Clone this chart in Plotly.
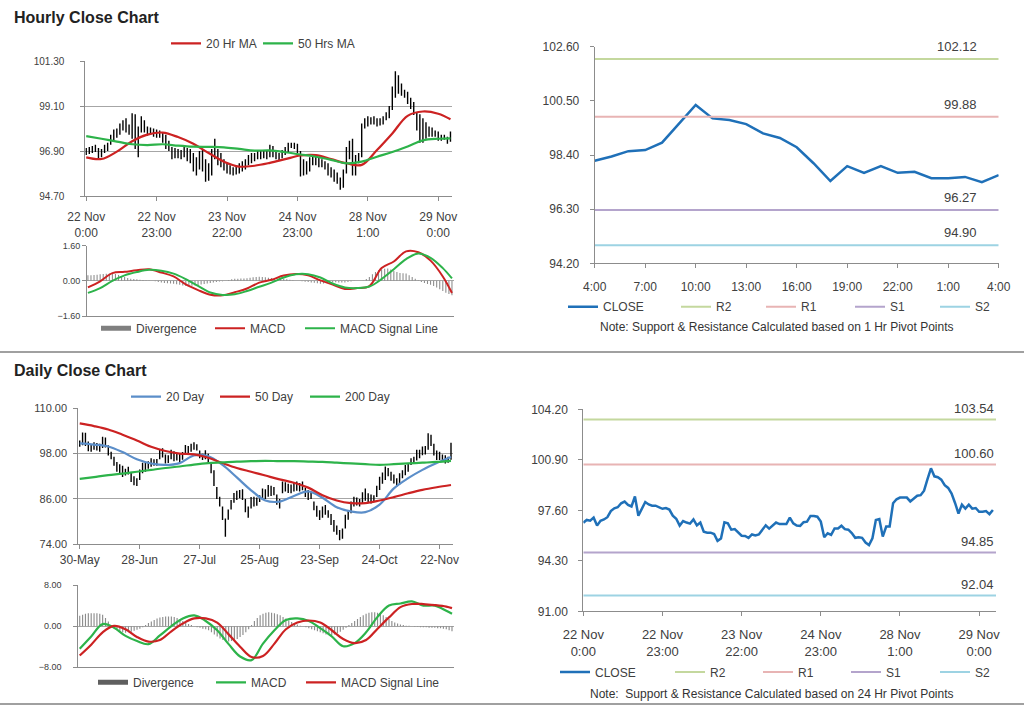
import plotly.graph_objects as go

W, H = 1024, 706
FONT = "Liberation Sans, Arial, sans-serif"
TXT = "#404040"
GRID = "#a6a6a6"
AXC = "#8c8c8c"

# ---------------- hourly data (22 Nov 0:00 -> 29 Nov 4:00) ----------------
hour_labels = ["22 Nov<br>0:00", "22 Nov<br>23:00", "23 Nov<br>22:00",
               "24 Nov<br>23:00", "28 Nov<br>1:00", "29 Nov<br>0:00"]
hour_label_pos = [0, 23, 46, 69, 92, 115]

hour_close = [96.79, 96.97, 96.92, 97.12, 96.60, 96.92, 97.00, 97.15, 97.55, 97.73,
              97.80, 98.06, 98.17, 97.95, 97.85, 98.50, 97.25, 97.75, 98.14, 97.98,
              97.90, 97.90, 97.80, 97.70, 97.75, 97.65, 97.25, 97.05, 96.60, 96.90,
              96.80, 96.73, 97.00, 96.62, 96.80, 96.20, 96.14, 96.14, 96.05, 95.60,
              95.75, 96.82, 96.75, 96.33, 96.37, 96.15, 95.94, 95.92, 95.80, 96.02,
              95.95, 96.02, 96.30, 96.62, 96.40, 96.62, 96.80, 96.70, 96.70, 96.70,
              97.12, 96.75, 96.60, 96.58, 96.82, 96.86, 97.23, 97.23, 97.18, 96.86,
              95.84, 96.10, 96.00, 96.41, 96.41, 96.59, 96.37, 96.33, 96.11, 95.80,
              95.84, 95.80, 95.49, 95.33, 95.77, 96.97, 97.03, 95.88, 96.54, 96.54,
              98.06, 98.32, 98.43, 98.43, 98.43, 98.18, 98.34, 98.55, 98.59, 98.88,
              99.63, 100.34, 99.82, 99.76, 99.60, 99.24, 99.06, 98.70, 98.08, 97.39,
              97.97, 97.71, 97.97, 97.71, 97.75, 97.50, 97.50, 97.55, 97.35, 97.62]

hour_high = [97.05, 97.10, 97.15, 97.20, 97.05, 97.00, 97.20, 97.30, 97.70, 97.95,
             98.00, 98.25, 98.40, 98.50, 98.20, 98.74, 98.70, 98.10, 98.60, 98.40,
             98.10, 98.05, 98.00, 97.95, 97.90, 97.80, 97.70, 97.40, 97.10, 97.05,
             97.00, 96.95, 97.15, 97.05, 97.00, 96.80, 96.60, 96.90, 97.00, 96.50,
             96.30, 97.00, 97.50, 97.00, 96.80, 96.50, 96.30, 96.20, 96.10, 96.20,
             96.30, 96.40, 96.50, 96.70, 96.80, 96.80, 96.95, 96.90, 96.90, 96.95,
             97.20, 97.15, 96.95, 96.80, 96.95, 97.10, 97.30, 97.30, 97.30, 97.25,
             96.90, 96.50, 96.40, 96.60, 96.70, 96.70, 96.60, 96.50, 96.40, 96.30,
             96.10, 96.00, 95.85, 95.60, 96.00, 97.10, 97.40, 97.50, 96.70, 96.80,
             98.25, 98.50, 98.60, 98.55, 98.60, 98.50, 98.50, 98.60, 98.80, 99.10,
             100.05, 100.80, 100.60, 100.20, 99.90, 99.80, 99.50, 99.30, 98.80, 98.70,
             98.50, 98.30, 98.10, 98.05, 97.90, 97.85, 97.70, 97.70, 97.60, 97.85]

hour_low = [96.70, 96.75, 96.80, 96.85, 96.55, 96.60, 96.80, 96.90, 97.20, 97.40,
            97.55, 97.70, 97.90, 97.80, 97.70, 97.50, 97.00, 96.60, 97.80, 97.80,
            97.65, 97.70, 97.60, 97.55, 97.55, 97.30, 97.00, 96.90, 96.50, 96.55,
            96.55, 96.50, 96.60, 96.40, 96.30, 95.90, 95.70, 96.00, 95.90, 95.40,
            95.45, 95.70, 96.50, 96.20, 96.10, 95.95, 95.80, 95.75, 95.70, 95.75,
            95.80, 95.90, 96.00, 96.20, 96.30, 96.40, 96.50, 96.50, 96.55, 96.50,
            96.60, 96.60, 96.50, 96.45, 96.55, 96.70, 96.80, 97.05, 97.00, 96.80,
            95.65, 95.70, 95.75, 95.90, 96.20, 96.20, 96.10, 96.10, 96.00, 95.70,
            95.60, 95.40, 95.30, 95.00, 95.10, 95.80, 96.50, 95.70, 95.70, 96.30,
            96.60, 98.00, 98.10, 98.20, 98.20, 98.10, 98.15, 98.20, 98.40, 98.50,
            98.90, 99.50, 99.70, 99.60, 99.50, 99.20, 98.95, 98.66, 97.90, 97.30,
            97.30, 97.50, 97.60, 97.60, 97.60, 97.40, 97.40, 97.45, 97.25, 97.35]

hour_ma_pos = [0, 5, 10, 15, 20, 25, 30, 35, 40, 45, 50, 55, 60, 65, 70, 75, 80, 85,
               90, 95, 100, 105, 110, 115, 119]
hour_ma20 = [96.59, 96.51, 96.87, 97.38, 97.70, 97.80, 97.58, 97.25, 96.80, 96.38,
             96.14, 96.18, 96.32, 96.50, 96.68, 96.70, 96.50, 96.30, 96.22, 96.95,
             97.76, 98.62, 98.83, 98.72, 98.45]
hour_ma50 = [97.63, 97.50, 97.36, 97.23, 97.19, 97.23, 97.16, 97.11, 97.10, 97.08,
             97.00, 96.92, 96.93, 96.84, 96.73, 96.62, 96.47, 96.30, 96.38, 96.62,
             96.85, 97.12, 97.42, 97.50, 97.52]

hour_macd_pos = [0, 4, 8, 12, 16, 20, 24, 28, 32, 36, 40, 44, 48, 52, 56, 60, 64, 68,
                 72, 76, 80, 84, 88, 92, 96, 100, 104, 108, 112, 116, 119]
hour_macd = [-0.30, -0.02, 0.35, 0.41, 0.48, 0.53, 0.38, 0.20, -0.16, -0.42, -0.63,
             -0.66, -0.52, -0.35, -0.08, 0.05, 0.24, 0.31, 0.25, 0.02, -0.17, -0.37,
             -0.33, -0.24, 0.58, 0.88, 1.34, 1.30, 0.92, 0.20, -0.55]
hour_signal = [-0.55, -0.33, 0.00, 0.25, 0.40, 0.50, 0.46, 0.33, 0.08, -0.23, -0.53,
               -0.64, -0.61, -0.46, -0.27, -0.08, 0.15, 0.30, 0.30, 0.15, -0.12, -0.30,
               -0.33, -0.26, 0.08, 0.53, 0.99, 1.25, 1.05, 0.58, 0.11]
hour_divergence = [0.25, 0.26, 0.27, 0.28, 0.30, 0.31, 0.32, 0.33, 0.33, 0.31,
                   0.27, 0.22, 0.17, 0.13, 0.10, 0.08, 0.07, 0.05, 0.04, 0.03,
                   0.02, 0.00, -0.02, -0.05, -0.08, -0.10, -0.11, -0.12, -0.13, -0.15,
                   -0.18, -0.21, -0.23, -0.23, -0.22, -0.21, -0.19, -0.17, -0.14, -0.12,
                   -0.10, -0.08, -0.05, -0.03, -0.02, 0.01, 0.04, 0.07, 0.09, 0.10,
                   0.11, 0.11, 0.12, 0.14, 0.16, 0.18, 0.19, 0.18, 0.16, 0.14,
                   0.13, 0.12, 0.11, 0.10, 0.09, 0.07, 0.05, 0.03, 0.01, 0.00,
                   -0.02, -0.04, -0.05, -0.07, -0.09, -0.11, -0.13, -0.12, -0.10, -0.07,
                   -0.05, -0.06, -0.07, -0.07, -0.07, -0.05, -0.03, -0.01, 0.00, 0.01,
                   0.02, 0.08, 0.18, 0.30, 0.40, 0.48, 0.52, 0.55, 0.56, 0.52,
                   0.45, 0.40, 0.36, 0.35, 0.33, 0.26, 0.18, 0.10, 0.03, -0.05,
                   -0.10, -0.14, -0.18, -0.24, -0.30, -0.38, -0.46, -0.54, -0.60, -0.66]

# ---------------- pivot levels ----------------
level_names = ["R2", "R1", "S1", "S2"]
level_colors = ["#c4d89e", "#e8b4b4", "#b4a4cc", "#9dd3e3"]
pivot1_levels = [102.12, 99.88, 96.27, 94.90]
pivot24_levels = [103.54, 100.60, 94.85, 92.04]
pivot1_labels = ["4:00", "7:00", "10:00", "13:00", "16:00", "19:00", "22:00", "1:00", "4:00"]
pivot1_hours = 25  # last 25 hourly closes

# ---------------- daily data (30 May -> 28 Nov) ----------------
day_labels = ["30-May", "28-Jun", "27-Jul", "25-Aug", "23-Sep", "24-Oct", "22-Nov"]
day_label_pos = [0, 21, 42, 63, 84, 105, 126]

day_close = [100.6, 102.8, 101.0, 99.5, 100.0, 99.6, 100.2, 99.2, 101.8, 100.5,
             98.0, 97.0, 95.2, 94.0, 94.6, 93.0, 93.6, 93.2, 91.2, 90.0,
             90.8, 93.5, 94.6, 94.2, 95.5, 95.0, 96.2, 95.6, 98.4, 97.5,
             96.0, 97.2, 98.5, 96.8, 97.5, 96.5, 97.8, 99.5, 98.8, 100.0,
             99.8, 99.2, 97.2, 97.6, 98.4, 96.0, 93.2, 90.0, 86.6, 84.8,
             81.0, 79.8, 82.5, 85.0, 87.2, 86.5, 87.8, 88.0, 83.0, 82.0,
             86.0, 84.6, 86.0, 85.5, 88.0, 86.6, 89.0, 87.5, 88.5, 85.0,
             84.2, 90.0, 88.6, 89.6, 88.0, 89.8, 89.0, 90.0, 89.2, 87.0,
             88.0, 86.3, 83.5, 82.0, 81.0, 83.6, 82.2, 81.4, 79.6, 78.0,
             77.0, 76.0, 78.0, 81.2, 82.6, 84.8, 85.0, 86.0, 84.6, 87.2,
             86.2, 87.0, 85.6, 86.7, 89.2, 91.0, 92.6, 93.4, 92.5, 91.5,
             92.0, 90.0, 92.4, 93.2, 94.4, 94.8, 96.4, 96.8, 98.6, 97.6,
             99.2, 98.6, 102.6, 100.4, 98.0, 97.2, 98.0, 96.6, 97.0, 96.2,
             99.2]
day_high = [101.5, 103.6, 103.5, 101.2, 100.5, 101.0, 100.8, 100.6, 102.5, 102.3,
            100.2, 98.5, 97.2, 95.8, 95.2, 94.8, 94.0, 94.5, 93.0, 92.0,
            91.5, 93.8, 95.6, 95.5, 96.0, 96.8, 96.5, 96.6, 99.0, 99.4,
            97.8, 97.6, 99.0, 98.6, 98.2, 98.0, 98.4, 100.3, 100.0, 100.6,
            101.0, 100.5, 98.8, 98.0, 98.9, 98.0, 95.6, 93.6, 89.2, 86.6,
            84.0, 80.8, 83.2, 85.7, 87.6, 88.2, 88.4, 88.6, 86.0, 84.0,
            86.5, 86.6, 86.4, 87.0, 88.8, 88.6, 89.7, 89.5, 89.2, 87.2,
            86.0, 90.6, 90.4, 90.0, 89.8, 90.5, 90.6, 90.2, 90.6, 89.0,
            88.4, 88.0, 85.3, 84.2, 83.0, 84.0, 84.4, 83.0, 82.0, 80.4,
            79.0, 77.8, 78.2, 81.8, 83.0, 85.3, 86.6, 86.4, 86.0, 87.8,
            88.8, 87.5, 87.2, 87.0, 89.5, 91.9, 93.0, 94.6, 94.2, 93.2,
            92.5, 91.5, 92.8, 93.6, 95.0, 95.4, 96.8, 97.2, 99.0, 99.0,
            99.9, 100.0, 103.4, 103.0, 100.6, 98.8, 98.5, 97.8, 97.6, 97.2,
            100.9]
day_low = [99.8, 100.2, 100.0, 98.6, 98.5, 99.0, 98.8, 98.5, 99.5, 99.6,
           97.5, 96.5, 94.8, 93.2, 92.8, 91.8, 92.2, 92.5, 90.5, 89.6,
           89.4, 91.0, 92.8, 93.2, 94.0, 94.5, 94.8, 94.8, 96.5, 97.0,
           95.4, 95.5, 96.5, 96.0, 96.2, 95.8, 96.4, 98.0, 98.2, 98.5,
           99.0, 98.8, 96.8, 96.3, 96.5, 95.4, 92.8, 89.4, 86.0, 84.0,
           80.4, 76.0, 80.5, 83.2, 85.0, 85.7, 86.2, 85.7, 82.5, 81.0,
           83.5, 84.0, 84.2, 85.2, 85.7, 86.0, 86.6, 86.8, 87.0, 84.5,
           83.5, 87.5, 88.0, 87.6, 87.5, 88.0, 88.2, 88.0, 88.3, 86.5,
           85.7, 86.0, 83.0, 81.3, 80.4, 81.0, 81.8, 81.0, 79.1, 77.3,
           76.5, 75.1, 75.5, 78.2, 80.5, 82.2, 84.0, 84.3, 84.0, 84.8,
           85.5, 85.0, 84.8, 85.3, 86.5, 88.4, 90.0, 91.0, 92.0, 90.8,
           90.1, 89.3, 89.8, 91.5, 92.3, 93.2, 95.0, 95.4, 96.2, 96.8,
           97.6, 97.8, 99.0, 100.0, 97.5, 96.3, 96.3, 96.0, 95.4, 95.6,
           96.4]

day_ma_pos = [0, 5, 10, 15, 20, 25, 30, 35, 40, 45, 50, 55, 60, 65, 70, 75, 80, 85,
              90, 95, 100, 105, 110, 115, 120, 125, 130]
day_ma20 = [100.7, 100.4, 99.9, 98.4, 96.5, 95.4, 95.0, 95.5, 97.5, 97.3, 95.0, 91.7,
            88.3, 85.6, 85.3, 86.8, 88.0, 86.3, 83.8, 82.7, 82.5, 84.5, 88.8, 91.5,
            93.7, 95.5, 97.1]
day_ma50 = [106.0, 105.3, 104.4, 103.0, 101.5, 99.8, 98.7, 98.0, 97.8, 96.9, 95.5,
            94.2, 93.2, 92.2, 91.2, 90.3, 89.0, 87.0, 85.6, 84.9, 84.9, 85.6, 86.5,
            87.5, 88.4, 89.1, 89.7]
day_ma200 = [91.3, 91.8, 92.3, 92.7, 93.2, 93.7, 94.2, 94.6, 95.1, 95.5, 95.7, 95.9,
             96.0, 96.1, 96.0, 96.0, 95.9, 95.8, 95.6, 95.4, 95.2, 95.0, 95.2, 95.4,
             95.6, 95.8, 96.1]

day_macd_pos = [0, 4, 8, 12, 16, 20, 24, 28, 32, 36, 40, 44, 48, 52, 56, 60, 64, 68,
                72, 76, 80, 84, 88, 92, 96, 100, 104, 108, 112, 116, 120, 124, 128, 130]
day_macd = [-4.4, -2.0, 0.4, -0.3, -1.9, -2.9, -3.5, -1.8, 0.0, 1.5, 2.1, 1.0, -0.8,
            -3.5, -5.9, -6.6, -3.4, -0.8, 1.2, 1.5, 1.0, -0.4, -2.0, -3.9, -3.3, -1.2,
            1.8, 4.0, 4.4, 4.8, 4.0, 4.0, 3.0, 2.4]
day_signal = [-5.7, -3.6, -1.2, 0.05, -0.6, -2.1, -3.0, -2.7, -1.0, 0.5, 1.5, 1.5, 0.7,
              -1.6, -4.0, -6.0, -5.8, -3.4, -0.6, 0.7, 1.1, 0.7, -0.8, -2.5, -3.3, -2.7,
              -0.5, 1.7, 3.7, 4.3, 4.3, 4.1, 3.8, 3.5]
day_divergence = [2.0, 2.2, 2.4, 2.5, 2.5, 2.5, 2.5, 2.4, 2.2, 1.6,
                  0.9, 0.2, -0.4, -0.8, -1.0, -1.2, -1.3, -1.2, -1.1, -0.9,
                  -0.7, -0.5, -0.2, 0.2, 0.6, 0.9, 1.2, 1.5, 1.7, 1.8,
                  1.9, 1.9, 1.9, 1.8, 1.6, 1.3, 1.0, 0.7, 0.4, 0.2,
                  0.0, -0.2, -0.3, -0.5, -0.6, -0.8, -1.2, -1.6, -2.0, -2.4,
                  -2.7, -2.9, -3.0, -2.9, -2.8, -2.5, -2.1, -1.7, -1.2, -0.6,
                  0.2, 1.0, 1.6, 2.1, 2.4, 2.6, 2.7, 2.6, 2.5, 2.3,
                  2.1, 1.8, 1.5, 1.1, 0.8, 0.5, 0.3, 0.1, 0.0, -0.2,
                  -0.4, -0.6, -0.8, -1.0, -1.2, -1.4, -1.6, -1.7, -1.7, -1.6,
                  -1.4, -1.1, -0.7, -0.3, 0.2, 0.6, 1.0, 1.4, 1.8, 2.1,
                  2.4, 2.6, 2.7, 2.7, 2.6, 2.4, 2.1, 1.8, 1.4, 1.0,
                  0.7, 0.5, 0.3, 0.2, 0.1, 0.1, 0.0, -0.1, -0.1, -0.2,
                  -0.2, -0.2, -0.3, -0.3, -0.3, -0.4, -0.4, -0.5, -0.6, -0.8,
                  -1.0]

# ---------------- colours ----------------
RED = "#cc2222"
GREEN = "#2db34a"
BLUE_MA = "#5b8ec9"
CLOSE_BLUE = "#1f70b8"
DIV_GRAY = "#8c8c8c"

hour_idx = list(range(len(hour_close)))
day_idx = list(range(len(day_close)))
p1_close = hour_close[-pivot1_hours:]
p1_idx = list(range(len(p1_close)))


def px_x(a, b):
    return [a / W, b / W]


def px_y(top, bottom):
    return [1 - bottom / H, 1 - top / H]


fig = go.Figure()

# ---- top-left: hourly bars + MAs ----
fig.add_trace(go.Ohlc(x=hour_idx, open=hour_close, high=hour_high, low=hour_low, close=hour_close,
                      xaxis="x", yaxis="y", tickwidth=0.15, showlegend=False, hoverinfo="skip",
                      increasing=dict(line=dict(color="black", width=1.4)),
                      decreasing=dict(line=dict(color="black", width=1.4))))
fig.add_trace(go.Scatter(x=hour_ma_pos, y=hour_ma20, mode="lines", name="20 Hr MA",
                         line=dict(color=RED, width=2.2, shape="spline"), xaxis="x", yaxis="y",
                         legend="legend"))
fig.add_trace(go.Scatter(x=hour_ma_pos, y=hour_ma50, mode="lines", name="50 Hrs MA",
                         line=dict(color=GREEN, width=2.2, shape="spline"), xaxis="x", yaxis="y",
                         legend="legend2"))

# ---- top-left: hourly MACD ----
fig.add_trace(go.Bar(x=hour_idx, y=hour_divergence, width=0.35, marker=dict(color=DIV_GRAY, line=dict(width=0)),
                     xaxis="x2", yaxis="y2", showlegend=False, hoverinfo="skip"))
fig.add_trace(go.Scatter(x=[None], y=[None], mode="lines", name="Divergence",
                         line=dict(color="#7f7f7f", width=5), xaxis="x2", yaxis="y2", legend="legend3"))
fig.add_trace(go.Scatter(x=hour_macd_pos, y=hour_macd, mode="lines", name="MACD",
                         line=dict(color=RED, width=2, shape="spline"), xaxis="x2", yaxis="y2",
                         legend="legend4"))
fig.add_trace(go.Scatter(x=hour_macd_pos, y=hour_signal, mode="lines", name="MACD Signal Line",
                         line=dict(color=GREEN, width=2, shape="spline"), xaxis="x2", yaxis="y2",
                         legend="legend5"))

# ---- top-right: 1 hr pivot ----
fig.add_trace(go.Scatter(x=p1_idx, y=p1_close, mode="lines", name="CLOSE",
                         line=dict(color=CLOSE_BLUE, width=2.5), xaxis="x3", yaxis="y3", legend="legend6"))
for k, (nm, col, lv) in enumerate(zip(level_names, level_colors, pivot1_levels)):
    fig.add_trace(go.Scatter(x=[p1_idx[0], p1_idx[-1]], y=[lv, lv], mode="lines", name=nm,
                             line=dict(color=col, width=2), xaxis="x3", yaxis="y3",
                             legend="legend%d" % (7 + k)))

# ---- bottom-right: 24 hr pivot ----
fig.add_trace(go.Scatter(x=hour_idx, y=hour_close, mode="lines", name="CLOSE",
                         line=dict(color=CLOSE_BLUE, width=2.5), xaxis="x4", yaxis="y4", legend="legend11"))
for k, (nm, col, lv) in enumerate(zip(level_names, level_colors, pivot24_levels)):
    fig.add_trace(go.Scatter(x=[hour_idx[0], hour_idx[-1] + 0.9], y=[lv, lv], mode="lines", name=nm,
                             line=dict(color=col, width=2), xaxis="x4", yaxis="y4",
                             legend="legend%d" % (12 + k)))

# ---- bottom-left: daily bars + MAs ----
fig.add_trace(go.Ohlc(x=day_idx, open=day_close, high=day_high, low=day_low, close=day_close,
                      xaxis="x5", yaxis="y5", tickwidth=0.15, showlegend=False, hoverinfo="skip",
                      increasing=dict(line=dict(color="black", width=1.4)),
                      decreasing=dict(line=dict(color="black", width=1.4))))
fig.add_trace(go.Scatter(x=day_ma_pos, y=day_ma20, mode="lines", name="20 Day",
                         line=dict(color=BLUE_MA, width=2.2, shape="spline"), xaxis="x5", yaxis="y5",
                         legend="legend16"))
fig.add_trace(go.Scatter(x=day_ma_pos, y=day_ma50, mode="lines", name="50 Day",
                         line=dict(color=RED, width=2.2, shape="spline"), xaxis="x5", yaxis="y5",
                         legend="legend17"))
fig.add_trace(go.Scatter(x=day_ma_pos, y=day_ma200, mode="lines", name="200 Day",
                         line=dict(color=GREEN, width=2.2, shape="spline"), xaxis="x5", yaxis="y5",
                         legend="legend18"))

# ---- bottom-left: daily MACD ----
fig.add_trace(go.Bar(x=day_idx, y=day_divergence, width=0.4, marker=dict(color=DIV_GRAY, line=dict(width=0)),
                     xaxis="x6", yaxis="y6", showlegend=False, hoverinfo="skip"))
fig.add_trace(go.Scatter(x=[None], y=[None], mode="lines", name="Divergence",
                         line=dict(color="#5f5f5f", width=5), xaxis="x6", yaxis="y6", legend="legend19"))
fig.add_trace(go.Scatter(x=day_macd_pos, y=day_macd, mode="lines", name="MACD",
                         line=dict(color=GREEN, width=2.2, shape="spline"), xaxis="x6", yaxis="y6",
                         legend="legend20"))
fig.add_trace(go.Scatter(x=day_macd_pos, y=day_signal, mode="lines", name="MACD Signal Line",
                         line=dict(color=RED, width=2.2, shape="spline"), xaxis="x6", yaxis="y6",
                         legend="legend21"))


def xaxis(dom, rng, anchor, tickvals=None, ticktext=None, size=12, standoff=0, ticks=True):
    d = dict(domain=px_x(*dom), range=rng, anchor=anchor, showgrid=False, zeroline=False,
             showline=True, linecolor=AXC, linewidth=1, fixedrange=True,
             tickfont=dict(family=FONT, size=size, color=TXT))
    if tickvals is None:
        d.update(showticklabels=False, ticks="")
    else:
        d.update(tickmode="array", tickvals=tickvals, ticktext=ticktext, ticks="outside",
                 ticklen=4, tickcolor=AXC, ticklabelstandoff=standoff)
    return d


def yaxis(top, bottom, rng, tickvals, anchor, size=11, standoff=0, grid=True, fmt=".2f"):
    return dict(domain=px_y(top, bottom), range=rng, anchor=anchor, tickmode="array",
                tickvals=tickvals, tickformat=fmt, showgrid=grid, gridcolor=GRID, gridwidth=1,
                zeroline=False, showline=True, linecolor=AXC, linewidth=1, ticks="outside",
                ticklen=4, tickcolor=AXC, ticklabelstandoff=standoff, fixedrange=True,
                tickfont=dict(family=FONT, size=size, color=TXT))


layout = dict(
    width=W, height=H, margin=dict(l=0, r=0, t=0, b=0, autoexpand=False),
    paper_bgcolor="white", plot_bgcolor="white",
    font=dict(family=FONT, size=12, color=TXT),
    showlegend=True, hovermode=False,
    xaxis=xaxis((85.3, 452), [-0.3, 119.5], "y", hour_label_pos, hour_labels, 12, 6),
    yaxis=yaxis(61, 196, [94.7, 101.3], [94.7, 96.9, 99.1, 101.3], "x", 10, 14),
    xaxis2=xaxis((87, 453.5), [-0.3, 119.5], "y2"),
    yaxis2=yaxis(245.7, 316, [-1.6, 1.6], [-1.6, 0, 1.6], "x2", 9, 0),
    xaxis3=xaxis((594.7, 998.7), [0, 24], "y3", list(range(0, 25, 3)), pivot1_labels, 12, 8),
    yaxis3=yaxis(46.7, 263.3, [94.2, 102.6], [94.2, 96.3, 98.4, 100.5, 102.6], "x3", 12, 8, grid=False),
    xaxis4=xaxis((583.3, 996), [0, 119.9], "y4", hour_label_pos, hour_labels, 13, 7),
    yaxis4=yaxis(409.3, 611.3, [91.0, 104.2], [91.0, 94.3, 97.6, 100.9, 104.2], "x4", 12, 8, grid=False),
    xaxis5=xaxis((78.3, 453), [-0.5, 130.7], "y5", day_label_pos, day_labels, 12, 0),
    yaxis5=yaxis(408.3, 544.3, [74, 110], [74, 86, 98, 110], "x5", 11, 4),
    xaxis6=xaxis((78.3, 454), [-0.5, 130.7], "y6"),
    yaxis6=yaxis(585, 667.3, [-8, 8], [-8, 0, 8], "x6", 9, 10),
)
layout["xaxis"]["rangeslider"] = dict(visible=False)
layout["xaxis5"]["rangeslider"] = dict(visible=False)

# legends: one per entry, placed at the reference positions (line start px, centre y px)
legend_pos = {
    "legend": (173, 43.3), "legend2": (265, 43.3),
    "legend3": (103, 328.3), "legend4": (217, 328.3), "legend5": (307, 328.3),
    "legend6": (570, 306.7), "legend7": (683, 306.7), "legend8": (768, 306.7),
    "legend9": (857, 306.7), "legend10": (942, 306.7),
    "legend11": (562, 672), "legend12": (677, 672), "legend13": (765, 672),
    "legend14": (853, 672), "legend15": (942, 672),
    "legend16": (133, 396.7), "legend17": (222, 396.7), "legend18": (312, 396.7),
    "legend19": (100, 682.3), "legend20": (218, 682.3), "legend21": (308, 682.3),
}
LOFF = 7
for key, (lx, ly) in legend_pos.items():
    layout[key] = dict(x=(lx - LOFF) / W, y=1 - ly / H, xanchor="left", yanchor="middle",
                       orientation="h", bgcolor="rgba(0,0,0,0)", borderwidth=0, itemwidth=30,
                       font=dict(family=FONT, size=12, color=TXT))

annotations = [
    dict(text="<b>Hourly Close Chart</b>", x=12 / W, y=1 - 17 / H, xref="paper", yref="paper",
         xanchor="left", yanchor="middle", showarrow=False, font=dict(family=FONT, size=16, color="#222222")),
    dict(text="<b>Daily Close Chart</b>", x=12 / W, y=1 - 370 / H, xref="paper", yref="paper",
         xanchor="left", yanchor="middle", showarrow=False, font=dict(family=FONT, size=16, color="#222222")),
    dict(text="Note: Support & Resistance Calculated based on 1 Hr Pivot Points", x=777 / W, y=1 - 327 / H,
         xref="paper", yref="paper", xanchor="center", yanchor="middle", showarrow=False,
         font=dict(family=FONT, size=12, color="#333333")),
    dict(text="Note:  Support & Resistance Calculated based on 24 Hr Pivot Points", x=772 / W, y=1 - 694 / H,
         xref="paper", yref="paper", xanchor="center", yanchor="middle", showarrow=False,
         font=dict(family=FONT, size=12, color="#333333")),
]
for lv in pivot1_levels:
    annotations.append(dict(text="%.2f" % lv, x=22.85, y=lv, xref="x3", yref="y3", xanchor="right",
                            yanchor="middle", yshift=12.5, showarrow=False,
                            font=dict(family=FONT, size=13, color=TXT)))
for lv in pivot24_levels:
    annotations.append(dict(text="%.2f" % lv, x=119.9, y=lv, xref="x4", yref="y4", xanchor="right",
                            yanchor="middle", yshift=11, showarrow=False,
                            font=dict(family=FONT, size=13, color=TXT)))
layout["annotations"] = annotations

layout["shapes"] = [
    dict(type="line", xref="paper", yref="paper", x0=0, x1=1, y0=1 - 352 / H, y1=1 - 352 / H,
         line=dict(color="#a0a0a0", width=2)),
    dict(type="line", xref="paper", yref="paper", x0=0, x1=1, y0=1 - 704 / H, y1=1 - 704 / H,
         line=dict(color="#a0a0a0", width=2)),
]

fig.update_layout(**layout)
fig.write_html("out.html", config={"displayModeBar": False, "staticPlot": True},
               post_script="document.body.style.margin='0';document.body.style.overflow='hidden';")
